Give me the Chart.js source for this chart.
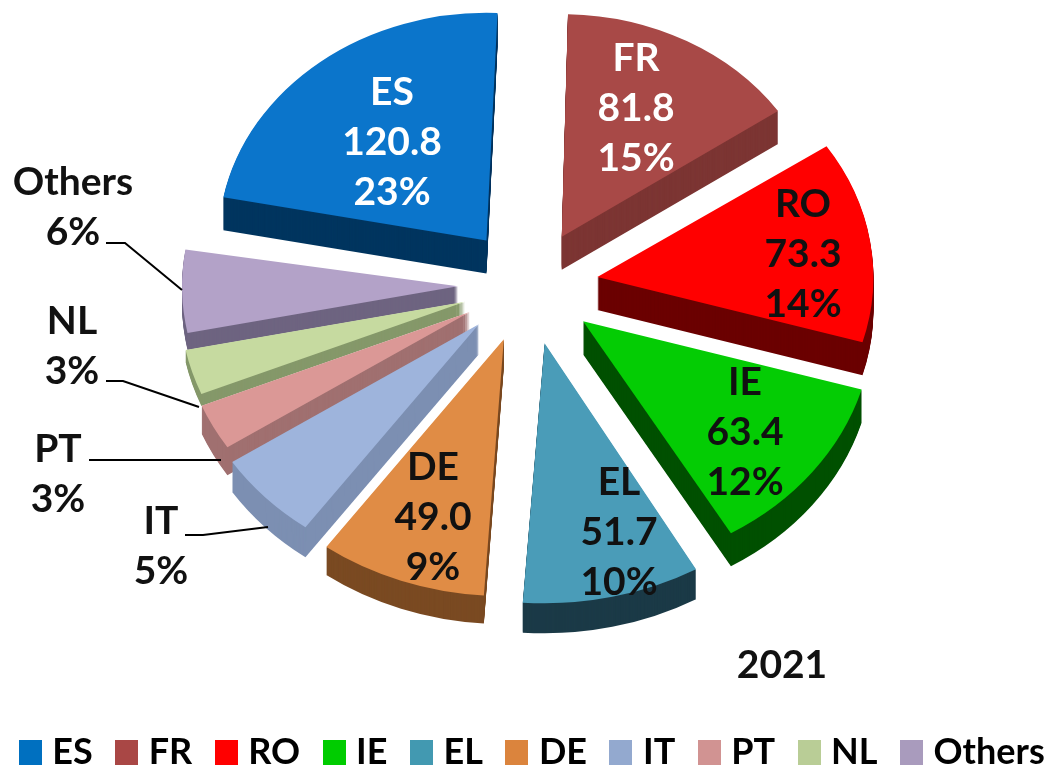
<!DOCTYPE html>
<html><head><meta charset="utf-8">
<style>html,body{margin:0;padding:0;background:#fff;overflow:hidden}canvas{display:block}</style>
<script src="https://cdn.jsdelivr.net/npm/chart.js@4/dist/chart.umd.min.js"></script>
</head><body><canvas id="c" width="1051" height="768"></canvas>
<script>
const categories = ['ES','FR','RO','IE','EL','DE','IT','PT','NL','Others'];
const values = [120.8,81.8,73.3,63.4,51.7,49.0,26.0,16.0,16.0,30.0];
const percentLabels = ['23%','15%','14%','12%','10%','9%','5%','3%','3%','6%'];
const valueLabels = ['120.8','81.8','73.3','63.4','51.7','49.0','','','',''];
const topColors = ['#0B75CB','#A84947','#FF0000','#04CC04','#4A9CB8','#E08C45','#9EB4DC','#DB9896','#C6DAA0','#B3A2C8'];
const legendColors = ['#0070C0','#A94745','#FF0000','#00CC00','#4299B1','#DB843D','#93A9CF','#D19392','#B9CD96','#A99BBD'];
const sideColors = ['#00355F','#7C3533','#6B0000','#005000','#1B3A47','#7A4A22','#7C8FB2','#A07070','#85986A','#6E6480'];
const explode = [68,65,68,68,70,69,69,68,68,72];
const sliceRadius = [268,262,276,290,306,302,295,290,285,276];
const sliceDepth = [33,33,33,33,30,28,30,28,12,17];
/* perspective warp of each slice's start / end angle, in degrees */
const warpStart = [2,0,-1,-1,0,-1.8,-3,0,0,0];
const warpEnd = [1,-1.5,-1,-1,-1.5,-3,0,0,0,0];
const labelLayout = [
 {x:392,y:[92,142,192],c:'#fff'},{x:636,y:[58,108,158],c:'#fff'},
 {x:803,y:[204,254,304],c:'#111'},{x:745,y:[382,432,482],c:'#111'},
 {x:619,y:[482,532,582],c:'#111'},{x:433,y:[467,517,567],c:'#111'},
 {x:161,y:[521,571],c:'#111'},{x:58,y:[449,499],c:'#111'},
 {x:72,y:[321,371],c:'#111'},{x:73,y:[182,232],c:'#111'}];
const leaders = [
 [[106,243],[125,243],[182,290]],
 [[106,381],[123,381],[199,407]],
 [[89,460],[221,460]],
 [[185,535],[203,535],[268,527]]];
const yearLabel = '2021';
const centerX = 530, centerY = 285, squash = 0.85;
const labelFont = 'bold 39px Lato';

function legendSwatch(color){
  const s = document.createElement('canvas');
  s.width = 23; s.height = 25;
  const g = s.getContext('2d');
  g.fillStyle = color; g.fillRect(0,0,23,25);
  return s;
}

const pie3d = {
  id:'pie3d',
  afterDatasetsUpdate(chart){
    const meta = chart.getDatasetMeta(0);
    meta.data.forEach((arc,i)=>{
      const mid = (arc.startAngle+arc.endAngle)/2;
      arc.x = centerX + Math.cos(mid)*explode[i];
      arc.y = centerY/squash + Math.sin(mid)*explode[i];
      arc.outerRadius = sliceRadius[i];
      arc.startAngle += warpStart[i]*Math.PI/180;
      arc.endAngle += warpEnd[i]*Math.PI/180;
      arc.circumference = arc.endAngle-arc.startAngle;
    });
  },
  beforeDatasetsDraw(chart){
    const ctx = chart.ctx, arcs = chart.getDatasetMeta(0).data;
    for(let d=33;d>0;d--){
      arcs.forEach((arc,i)=>{
        if(d>sliceDepth[i]) return;
        const o = arc.options;
        arc.options = Object.assign({},o,{backgroundColor:sideColors[i],borderWidth:0});
        ctx.save(); ctx.translate(0,d); ctx.scale(1,squash); arc.draw(ctx); ctx.restore();
        arc.options = o;
      });
    }
    ctx.save(); ctx.scale(1,squash);
  },
  afterDatasetsDraw(chart){
    const ctx = chart.ctx;
    ctx.restore();
    ctx.save();
    ctx.strokeStyle='#000'; ctx.lineWidth=2;
    leaders.forEach(p=>{ctx.beginPath();p.forEach((q,i)=>i?ctx.lineTo(q[0],q[1]):ctx.moveTo(q[0],q[1]));ctx.stroke();});
    ctx.font=labelFont; ctx.textAlign='center'; ctx.textBaseline='middle';
    labelLayout.forEach((l,i)=>{
      ctx.fillStyle=l.c;
      const lines = valueLabels[i] ? [categories[i],valueLabels[i],percentLabels[i]] : [categories[i],percentLabels[i]];
      lines.forEach((t,k)=>ctx.fillText(t,l.x,l.y[k]));
    });
    ctx.fillStyle='#111';
    ctx.fillText(yearLabel,782,665);
    ctx.restore();
  }
};

new Chart(document.getElementById('c'),{
  type:'pie',
  data:{labels:categories,datasets:[{data:values,backgroundColor:topColors,borderWidth:0}]},
  options:{
    responsive:false,animation:false,
    radius:272,
    rotation:-81,
    layout:{padding:{left:-8,right:-28,top:0,bottom:-12}},
    plugins:{
      tooltip:{enabled:false},
      legend:{
        position:'bottom',
        labels:{
          usePointStyle:true,boxWidth:8,boxHeight:25,padding:30,color:'#000',
          font:{family:'Lato',weight:'bold',size:36},
          generateLabels(chart){
            return categories.map((t,i)=>({text:t,fillStyle:legendColors[i],strokeStyle:legendColors[i],lineWidth:0,index:i,hidden:false,pointStyle:legendSwatch(legendColors[i])}));
          }
        }
      }
    }
  },
  plugins:[pie3d]
});
</script></body></html>
